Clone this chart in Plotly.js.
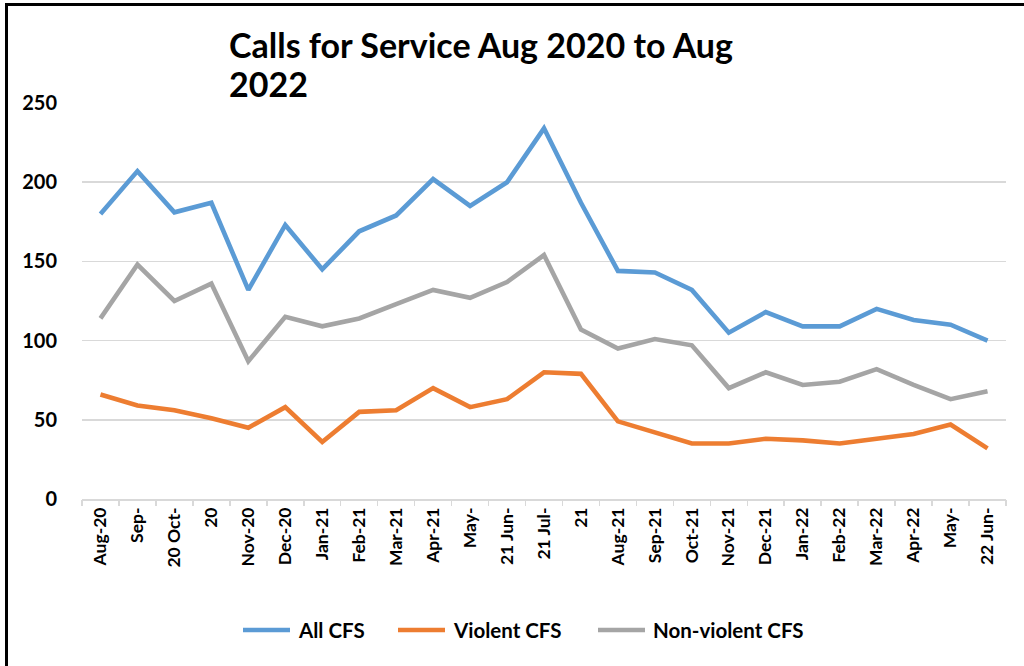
<!DOCTYPE html>
<html>
<head>
<meta charset="utf-8">
<script src="https://cdn.plot.ly/plotly-3.0.1.min.js"></script>
<style>
  html, body { margin: 0; padding: 0; background: #fff; }
  #frame { position: absolute; left: 5px; top: 3px; width: 1019px; height: 663px;
           border-top: 3px solid #000; border-left: 3px solid #000; box-sizing: border-box; }
  #chart { position: absolute; left: 0; top: 0; width: 1024px; height: 666px; }
</style>
</head>
<body>
<div id="chart"></div>
<div id="frame"></div>
<script>
const tickLabels = ["Aug-20","Sep-","20 Oct-","20","Nov-20","Dec-20","Jan-21","Feb-21","Mar-21","Apr-21","May-","21 Jun-","21 Jul-","21","Aug-21","Sep-21","Oct-21","Nov-21","Dec-21","Jan-22","Feb-22","Mar-22","Apr-22","May-","22 Jun-"];
const allCFS =        [180,207,181,187,132,173,145,169,179,202,185,200,234,187,144,143,132,105,118,109,109,120,113,110,100];
const violentCFS =    [66, 59, 56, 51, 45, 58, 36, 55, 56, 70, 58, 63, 80, 79, 49, 42, 35, 35, 38, 37, 35, 38, 41, 47, 32];
const nonViolentCFS = [114,148,125,136,87,115,109,114,123,132,127,137,154,107,95,101,97, 70, 80, 72, 74, 82, 72, 63, 68];
const seriesNames = ['All CFS', 'Violent CFS', 'Non-violent CFS'];
const seriesColors = ['#5B9BD5', '#ED7D31', '#A5A5A5'];
const yTicks = [0, 50, 100, 150, 200, 250];

const idx = allCFS.map((_, i) => i);
const bounds = [];
for (let i = 0; i <= allCFS.length; i++) bounds.push(i - 0.5);

const font = "Lato, 'Open Sans', sans-serif";
const mk = (y, k) => ({
  x: idx, y: y, name: seriesNames[k], type: 'scatter', mode: 'lines', showlegend: false,
  line: {color: seriesColors[k], width: 4.6, shape: 'linear'}
});

const traces = [
  mk(allCFS, 0),
  mk(violentCFS, 1),
  mk(nonViolentCFS, 2),
  {x: [bounds[0], bounds[bounds.length-1]], y: [null, null], xaxis: 'x2', yaxis: 'y',
   showlegend: false, hoverinfo: 'skip', type: 'scatter', mode: 'lines'}
];

// Legend drawn as paper-referenced keys (plot area spans 82..1006 px, 103..499 px)
const W = 924, H = 396, L = 82, B = 499;
const px = v => (v - L) / W;
const py = v => (B - v) / H;
const legendKeyX = [243, 398, 598];
const legendY = 630;
const shapes = legendKeyX.map((x0, k) => ({
  type: 'line', xref: 'paper', yref: 'paper',
  x0: px(x0), x1: px(x0 + 47), y0: py(legendY), y1: py(legendY),
  line: {color: seriesColors[k], width: 4.6}
}));
const annotations = legendKeyX.map((x0, k) => ({
  xref: 'paper', yref: 'paper', x: px(x0 + 53), y: py(legendY),
  xanchor: 'left', yanchor: 'middle', showarrow: false,
  text: '<b>' + seriesNames[k] + '</b>',
  font: {family: font, size: 20.5, color: '#000'}
}));

const layout = {
  width: 1024, height: 666,
  margin: {l: 82, r: 18, t: 103, b: 167},
  paper_bgcolor: '#ffffff', plot_bgcolor: '#ffffff',
  font: {family: font, color: '#000', size: 16},
  showlegend: false,
  title: {
    text: '<span style="font-size:34px"><b>Calls for Service Aug 2020 to Aug<br>2022</b></span>',
    font: {family: font, size: 30, color: '#000'},
    x: 229/1024, xanchor: 'left', xref: 'container',
    y: 1 - 58/666, yanchor: 'top', yref: 'container'
  },
  xaxis: {
    range: [-0.5, allCFS.length - 0.5],
    tickmode: 'array', tickvals: idx, ticktext: tickLabels.map(t => '<b>' + t + '</b>'),
    tickangle: -90, ticks: '', showgrid: false, zeroline: false,
    showline: true, linecolor: '#D9D9D9', linewidth: 1.5,
    tickfont: {family: font, size: 17.5, color: '#000'}, fixedrange: true
  },
  xaxis2: {
    overlaying: 'x', range: [-0.5, allCFS.length - 0.5],
    tickmode: 'array', tickvals: bounds, ticktext: bounds.map(() => ''),
    ticks: 'outside', ticklen: 6, tickcolor: '#D9D9D9', tickwidth: 1.5,
    showgrid: false, zeroline: false, showline: false, side: 'bottom', anchor: 'y'
  },
  yaxis: {
    range: [0, 250], tickmode: 'array', tickvals: yTicks,
    ticktext: yTicks.map(t => '<b>' + t + '</b>'),
    showgrid: true, gridcolor: '#D9D9D9', gridwidth: 1.5, zeroline: false,
    showline: false, ticks: '', ticklabelstandoff: 24,
    tickfont: {family: font, size: 20, color: '#000'}, fixedrange: true
  },
  shapes: shapes,
  annotations: annotations
};

Plotly.newPlot('chart', traces, layout, {displayModeBar: false, staticPlot: true});
</script>
</body>
</html>
